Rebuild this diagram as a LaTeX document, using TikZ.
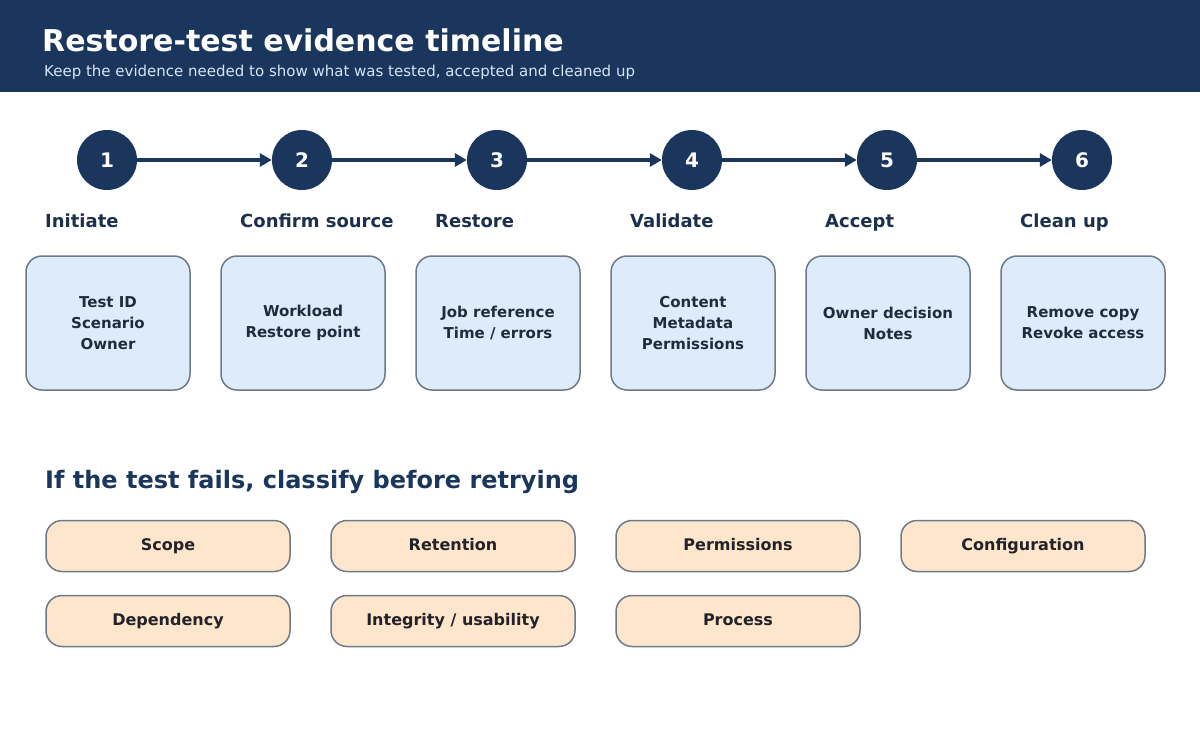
\documentclass[tikz,border=0pt]{standalone}
\usepackage{fontspec}
\setmainfont{DejaVu Sans}
\usepackage{tikz}
\usetikzlibrary{arrows.meta, positioning}
\definecolor{navy}{RGB}{27,54,93}
\definecolor{subtext}{RGB}{214,228,245}
\definecolor{steplabel}{RGB}{28,48,78}
\definecolor{boxfill}{RGB}{221,235,251}
\definecolor{boxline}{RGB}{110,122,137}
\definecolor{boxtext}{RGB}{30,44,62}
\definecolor{pillfill}{RGB}{253,230,204}
\definecolor{pilltext}{RGB}{34,34,40}

\begin{document}
\begin{tikzpicture}[x=1pt, y=-1pt]

% TikZ styles
\tikzset{
  stepnum/.style={circle, fill=navy, text=white, minimum size=60pt, inner sep=0pt, font=\fontsize{20}{22}\selectfont\bfseries},
  steplbl/.style={anchor=base west, inner sep=0pt, text=steplabel, font=\fontsize{18}{20}\selectfont\bfseries},
  evidence/.style={rectangle, rounded corners=16pt, draw=boxline, line width=1.5pt, fill=boxfill, minimum width=164pt, minimum height=134pt, align=center, text=boxtext, font=\fontsize{15}{21}\selectfont\bfseries},
  cause/.style={rectangle, rounded corners=16pt, draw=boxline, line width=1.5pt, fill=pillfill, minimum width=244pt, minimum height=51pt, text height=11pt, text depth=3pt, align=center, text=pilltext, font=\fontsize{16}{18}\selectfont\bfseries},
  arrow/.style={-{Triangle[length=12pt, width=13pt]}, draw=navy, line width=4pt}
};

\useasboundingbox (0,0) rectangle (1200,750);
\fill[white] (0,0) rectangle (1200,750);

%==========================
% Kopfzeile
%==========================
\fill[navy] (0,0) rectangle (1200,92);
\node[anchor=base west, inner sep=0pt, text=white, font=\fontsize{30}{32}\selectfont\bfseries] (title) at (42,51) {Restore-test evidence timeline};
\node[anchor=base west, inner sep=0pt, text=subtext, font=\fontsize{15}{17}\selectfont] (subtitle) at (44,76) {Keep the evidence needed to show what was tested, accepted and cleaned up};

%==========================
% Zeitstrahl
%==========================
\node[stepnum] (s1) at (107,160) {1};
\node[stepnum] (s2) at (302,160) {2};
\node[stepnum] (s3) at (497,160) {3};
\node[stepnum] (s4) at (692,160) {4};
\node[stepnum] (s5) at (887,160) {5};
\node[stepnum] (s6) at (1082,160) {6};

\draw[arrow] (s1.east) -- (s2.west);
\draw[arrow] (s2.east) -- (s3.west);
\draw[arrow] (s3.east) -- (s4.west);
\draw[arrow] (s4.east) -- (s5.west);
\draw[arrow] (s5.east) -- (s6.west);

\node[steplbl] (initiate) at (45,227) {Initiate};
\node[steplbl] (confirm)  at (240,227) {Confirm source};
\node[steplbl] (restore)  at (435,227) {Restore};
\node[steplbl] (validate) at (630,227) {Validate};
\node[steplbl] (accept)   at (825,227) {Accept};
\node[steplbl] (cleanup)  at (1020,227) {Clean up};

% --- Nachweise ---
\node[evidence] (ev1) at (108,323) {Test ID\\Scenario\\Owner};
\node[evidence] (ev2) at (303,323) {Workload\\Restore point};
\node[evidence] (ev3) at (498,323) {Job reference\\Time / errors};
\node[evidence] (ev4) at (693,323) {Content\\Metadata\\Permissions};
\node[evidence] (ev5) at (888,323) {Owner decision\\Notes};
\node[evidence] (ev6) at (1083,323) {Remove copy\\Revoke access};

%==========================
% Fehlerklassen
%==========================
\node[anchor=base west, inner sep=0pt, text=navy, font=\fontsize{24}{26}\selectfont\bfseries] (failhead) at (45,488) {If the test fails, classify before retrying};

\node[cause] (scope)     at (168,546) {Scope};
\node[cause] (retention) at (453,546) {Retention};
\node[cause] (perms)     at (738,546) {Permissions};
\node[cause] (config)    at (1023,546) {Configuration};
\node[cause] (depend)    at (168,621) {Dependency};
\node[cause] (integrity) at (453,621) {Integrity / usability};
\node[cause] (process)   at (738,621) {Process};

\end{tikzpicture}
\end{document}
